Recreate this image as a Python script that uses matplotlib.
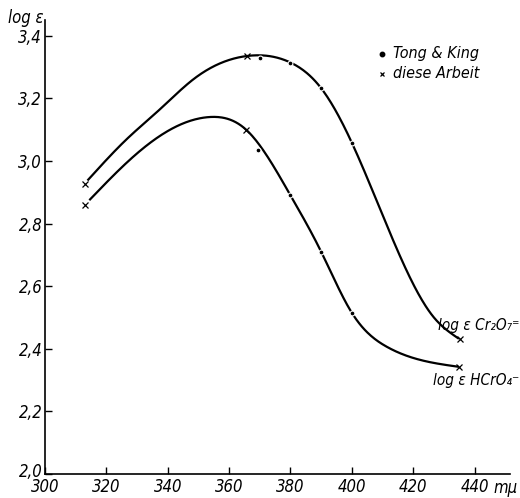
import numpy as np
import matplotlib
matplotlib.use("Agg")
import matplotlib.pyplot as plt
import matplotlib.transforms as mtransforms

# Tong & King (Punkte)
tk_cr2o7_x = [370, 380, 390, 400]
tk_cr2o7_y = [3.328, 3.314, 3.232, 3.058]
tk_hcro4_x = [369.5, 380, 390, 400]
tk_hcro4_y = [3.034, 2.89, 2.71, 2.515]

# diese Arbeit (Kreuze)
da_cr2o7_x = [313, 365.7, 435.4]
da_cr2o7_y = [2.925, 3.335, 2.43]
da_hcro4_x = [313, 365.5, 435]
da_hcro4_y = [2.86, 3.10, 2.343]

# Stuetzpunkte der gezeichneten Kurven
curve_cr2o7_x = [314.1, 326.6, 337.5, 348.3, 366, 380, 390, 400, 416.2, 426.5, 434.6]
curve_cr2o7_y = [2.94, 3.069, 3.165, 3.26, 3.335, 3.314, 3.232, 3.058, 2.685, 2.503, 2.434]
curve_hcro4_x = [314.7, 326.6, 337.5, 353.7, 365.5, 380, 390, 400, 411.3, 422.1, 434.5]
curve_hcro4_y = [2.877, 2.994, 3.08, 3.14, 3.10, 2.89, 2.71, 2.515, 2.407, 2.365, 2.343]

xticks = [300, 320, 340, 360, 380, 400, 420, 440]
yticks = [2.0, 2.2, 2.4, 2.6, 2.8, 3.0, 3.2, 3.4]


def spline(xs, ys, n=400):
    """natuerlicher kubischer Spline durch die Stuetzpunkte"""
    x = np.asarray(xs, float)
    y = np.asarray(ys, float)
    m = len(x)
    h = np.diff(x)
    A = np.zeros((m, m))
    r = np.zeros(m)
    A[0, 0] = A[-1, -1] = 1
    for i in range(1, m - 1):
        A[i, i - 1] = h[i - 1]
        A[i, i] = 2 * (h[i - 1] + h[i])
        A[i, i + 1] = h[i]
        r[i] = 6 * ((y[i + 1] - y[i]) / h[i] - (y[i] - y[i - 1]) / h[i - 1])
    M = np.linalg.solve(A, r)
    xx = np.linspace(x[0], x[-1], n)
    k = np.clip(np.searchsorted(x, xx) - 1, 0, m - 2)
    t0 = x[k + 1] - xx
    t1 = xx - x[k]
    hk = h[k]
    yy = (M[k] * t0**3 + M[k + 1] * t1**3) / (6 * hk) \
        + (y[k] / hk - M[k] * hk / 6) * t0 + (y[k + 1] / hk - M[k + 1] * hk / 6) * t1
    return xx, yy


plt.rcParams['font.family'] = ['DejaVu Sans']
plt.rcParams['font.style'] = 'italic'
plt.rcParams['font.stretch'] = 'condensed'

fig = plt.figure(figsize=(5.2, 4.98), dpi=100)
ax = fig.add_axes([0.0865, 0.048, 0.894, 0.912])

for cx, cy in [(curve_cr2o7_x, curve_cr2o7_y), (curve_hcro4_x, curve_hcro4_y)]:
    xx, yy = spline(cx, cy)
    ax.plot(xx, yy, color='black', lw=1.6, zorder=2)

ax.plot(tk_cr2o7_x + tk_hcro4_x, tk_cr2o7_y + tk_hcro4_y, 'o', ms=3.5,
        color='black', mec='white', mew=0.8, zorder=3)
ax.plot(da_cr2o7_x + da_hcro4_x, da_cr2o7_y + da_hcro4_y, 'x', ms=4,
        color='black', mew=0.9, zorder=3)

ax.set_xlim(300, 451.5)
ax.set_ylim(2.0, 3.45)
ax.spines['top'].set_visible(False)
ax.spines['right'].set_visible(False)
ax.spines['left'].set_linewidth(1.2)
ax.spines['bottom'].set_linewidth(1.2)
ax.set_xticks(xticks)
ax.set_xticklabels([str(v) for v in xticks])
ax.set_yticks(yticks)
ax.set_yticklabels([f"{v:.1f}".replace('.', ',') for v in yticks])
ax.tick_params(direction='in', length=5, width=1, labelsize=12)
ax.tick_params(axis='y', pad=2)
ax.tick_params(axis='x', pad=3)
# "2,0" etwas anheben, damit es nicht in "300" laeuft
lbl0 = ax.get_yticklabels()[0]
lbl0.set_transform(lbl0.get_transform() + mtransforms.ScaledTranslation(0, 3 / 72, fig.dpi_scale_trans))

xblend = mtransforms.blended_transform_factory(ax.transData, ax.transAxes)
yblend = mtransforms.blended_transform_factory(ax.transAxes, ax.transData)
ax.text(446.2, -0.01, 'mμ', transform=xblend, ha='left', va='top', fontsize=12)
ax.text(-0.08, 1.024, 'log ε', transform=ax.transAxes,
        ha='left', va='top', fontsize=12)

ax.text(1.02, 2.475, 'log ε Cr₂O₇⁼', transform=yblend,
        ha='right', va='center', fontsize=11)
ax.text(1.02, 2.30, 'log ε HCrO₄⁻', transform=yblend,
        ha='right', va='center', fontsize=11)

# Legende
ax.plot([409.8], [3.342], 'o', ms=3.2, color='black')
ax.plot([409.8], [3.278], 'x', ms=3.5, mew=0.9, color='black')
ax.text(413.4, 3.342, 'Tong & King', ha='left', va='center', fontsize=11.5)
ax.text(413.4, 3.278, 'diese Arbeit', ha='left', va='center', fontsize=11.5)

fig.savefig('out.png', dpi=100)
